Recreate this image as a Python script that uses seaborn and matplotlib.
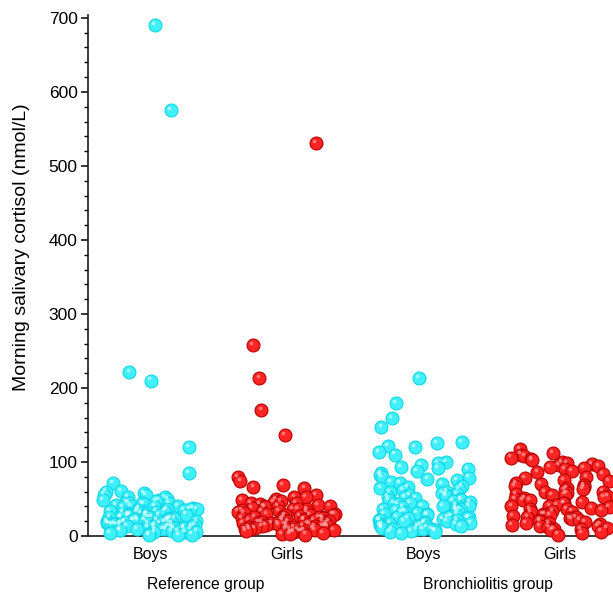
import numpy as np
import pandas as pd
import matplotlib
matplotlib.use("Agg")
import matplotlib.pyplot as plt
import matplotlib.transforms as mtransforms
import seaborn as sns

# ---- data ----
ref_boys = [690, 576, 222, 210, 120, 85, 71, 61, 60, 58, 56, 55, 53, 52, 50, 49, 48, 47, 46, 45,
            44, 44, 43, 42, 41, 40, 40, 39, 38, 38, 37, 36, 36, 35, 35, 34, 33, 33, 32, 32, 31, 31,
            30, 30, 29, 29, 28, 28, 27, 27, 26, 26, 26, 25, 25, 24, 24, 24, 23, 23, 22, 22, 22, 21,
            21, 21, 20, 20, 20, 19, 19, 19, 18, 18, 18, 17, 17, 17, 16, 16, 16, 15, 15, 15, 14, 14,
            14, 13, 13, 12, 12, 12, 11, 11, 10, 10, 10, 9, 9, 8, 8, 7, 7, 6, 5, 5, 4, 3, 2, 1, 1]
ref_girls = [531, 258, 213, 170, 137, 80, 74, 69, 66, 65, 55, 53, 52, 50, 48, 47, 46, 45, 44, 43,
             42, 41, 40, 40, 39, 38, 37, 36, 36, 35, 34, 33, 33, 32, 31, 30, 30, 29, 28, 28, 27, 26,
             26, 25, 25, 24, 24, 23, 23, 22, 22, 21, 21, 20, 20, 20, 19, 19, 18, 18, 18, 17, 17, 16,
             16, 16, 15, 15, 15, 14, 14, 14, 13, 13, 13, 12, 12, 12, 11, 11, 10, 10, 10, 9, 9, 8, 8,
             8, 7, 7, 6, 6, 5, 5, 4, 3, 3, 2]
bron_boys = [214, 180, 159, 147, 127, 125, 121, 120, 113, 110, 100, 98, 96, 93, 92, 90, 88, 85, 82,
             80, 79, 77, 75, 73, 72, 70, 68, 66, 65, 63, 62, 60, 59, 58, 57, 56, 55, 54, 53, 52, 51,
             50, 49, 48, 47, 46, 45, 44, 43, 42, 41, 40, 40, 39, 38, 37, 36, 35, 35, 34, 33, 32, 31,
             30, 30, 29, 28, 27, 26, 26, 25, 24, 24, 23, 22, 22, 21, 20, 20, 19, 18, 18, 17, 16, 16,
             15, 15, 14, 13, 13, 12, 12, 11, 10, 10, 9, 9, 8, 7, 6, 5, 4]
bron_girls = [117, 112, 110, 108, 106, 104, 102, 100, 99, 97, 96, 95, 93, 92, 90, 88, 86, 84, 80, 78,
              76, 74, 72, 70, 69, 68, 66, 65, 64, 62, 60, 59, 58, 57, 56, 55, 54, 52, 51, 50, 49, 48,
              46, 45, 44, 42, 41, 40, 39, 38, 37, 36, 35, 34, 33, 32, 30, 29, 28, 27, 26, 25, 24, 23,
              22, 21, 20, 19, 18, 17, 16, 15, 14, 13, 12, 11, 10, 9, 8, 6, 4, 2]

group_keys = ["ref_boys", "ref_girls", "bron_boys", "bron_girls"]
tick_labels = ["Boys", "Girls", "Boys", "Girls"]
sexes = ["Boys", "Girls", "Boys", "Girls"]
group_names = ["Reference group", "Bronchiolitis group"]
y_label = "Morning salivary cortisol (nmol/L)"

series = [ref_boys, ref_girls, bron_boys, bron_girls]
df = pd.DataFrame({
    "group": np.concatenate([[k] * len(v) for k, v in zip(group_keys, series)]),
    "sex": np.concatenate([[s] * len(v) for s, v in zip(sexes, series)]),
    "value": np.concatenate(series).astype(float),
})

# ---- style ----
sns.set_style("white")
plt.rcParams["font.family"] = ["Liberation Sans", "DejaVu Sans"]
plt.rcParams["text.color"] = "black"
plt.rcParams["axes.labelcolor"] = "black"
plt.rcParams["xtick.color"] = "black"
plt.rcParams["ytick.color"] = "black"

face = {"Boys": "#3FF0FA", "Girls": "#FF2424"}
edge = {"Boys": "#12D6E6", "Girls": "#B80000"}
hilite = {"Boys": "#DFFFFF", "Girls": "#FFA8A8"}

fig = plt.figure(figsize=(6.13, 5.97), dpi=100)
ax = fig.add_axes([0.1436, 0.1022, 0.987 - 0.1436, 0.975 - 0.1022])

np.random.seed(3)
for sex in ["Boys", "Girls"]:
    sub = df[df["sex"] == sex]
    n_before = len(ax.collections)
    sns.stripplot(data=sub, x="group", y="value", order=group_keys, jitter=0.36,
                  color=face[sex], edgecolor=edge[sex], linewidth=0.8, size=9.3,
                  ax=ax, clip_on=False, zorder=3)
    # small highlight on each marker for a glossy sphere look
    tr = mtransforms.offset_copy(ax.transData, fig=fig, x=-1.3, y=1.5, units="points")
    for coll in ax.collections[n_before:]:
        offs = coll.get_offsets()
        if len(offs) == 0:
            continue
        ax.scatter(offs[:, 0], offs[:, 1], s=7, color=hilite[sex], alpha=0.65,
                   linewidths=0, transform=tr, clip_on=False, zorder=4)

ax.set_xlim(-0.454, 3.33)
ax.set_ylim(0, 704)
ax.set_yticks(np.arange(0, 701, 100))
ax.set_yticks(np.arange(0, 701, 20), minor=True)
ax.set_xticks(range(4))
ax.set_xticklabels(tick_labels)
ax.set_xlabel("")
ax.set_ylabel(y_label, fontsize=14)
ax.yaxis.set_label_coords(-0.113, 0.555)

for s in ["top", "right"]:
    ax.spines[s].set_visible(False)
for s in ["left", "bottom"]:
    ax.spines[s].set_linewidth(1.2)
    ax.spines[s].set_color("#1a1a1a")

ax.tick_params(axis="y", which="major", length=5, width=1.1, direction="out", left=True,
               labelsize=12.5, pad=2.5)
ax.tick_params(axis="y", which="minor", length=3, width=1.0, direction="out", left=True)
ax.tick_params(axis="x", which="both", length=0, labelsize=11.5, pad=8)

xt = ax.get_xaxis_transform()
ax.text(0.41, -0.094, group_names[0], transform=xt, ha="center", va="center", fontsize=11.3)
ax.text(2.47, -0.094, group_names[1], transform=xt, ha="center", va="center", fontsize=11.3)

fig.savefig("out.png", dpi=100)
